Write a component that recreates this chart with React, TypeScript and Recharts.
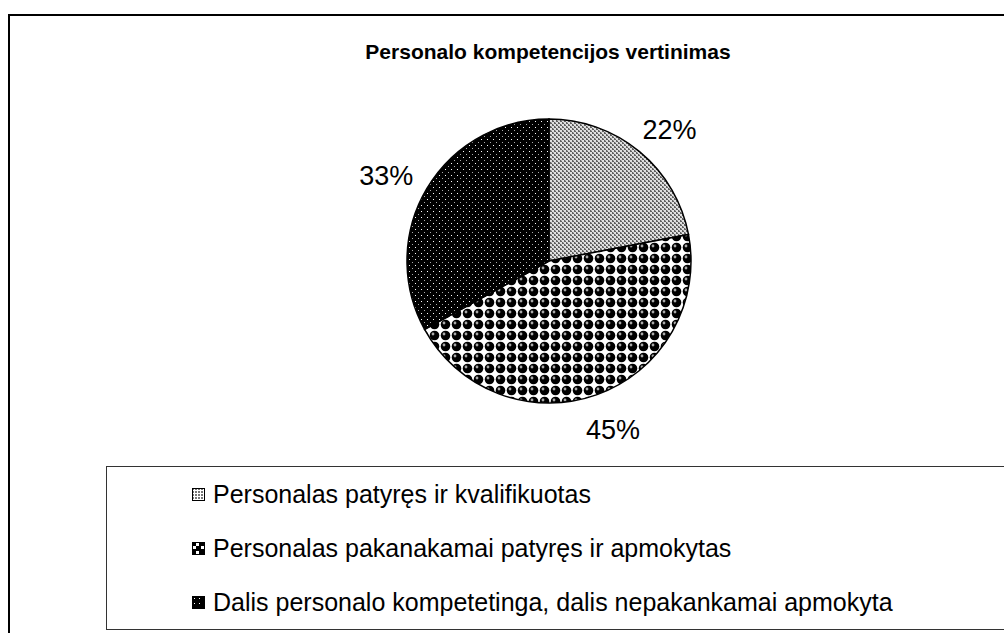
import { PieChart, Pie, Cell, Legend } from "recharts"

const categories = [
  "Personalas patyręs ir kvalifikuotas",
  "Personalas pakanakamai patyręs ir apmokytas",
  "Dalis personalo kompetetinga, dalis nepakankamai apmokyta",
]
const shares = [22, 45, 33]
const title = "Personalo kompetencijos vertinimas"

const data = categories.map((name, i) => ({ name, value: shares[i] }))
const fills = ["url(#patLight)", "url(#patBalls)", "url(#patDark)"]
const icons = ["url(#icoLight)", "url(#icoBalls)", "url(#icoDark)"]

const FONT = "'Liberation Sans', Arial, sans-serif"
const RADIAN = Math.PI / 180

function renderLabel(props: any) {
  const { cx, cy, midAngle, outerRadius, value } = props
  const r = outerRadius + 33
  const c = Math.cos(-midAngle * RADIAN)
  const s = Math.sin(-midAngle * RADIAN)
  const x = cx + r * c + 14 * c
  const y = cy + r * s + 4
  return (
    <text x={x} y={y} textAnchor="middle" dominantBaseline="central" fontSize={27} fontFamily={FONT} fill="#000">
      {value}%
    </text>
  )
}

function LegendBox() {
  return (
    <div style={{ fontFamily: FONT, fontSize: 25, color: "#000" }}>
      {data.map((d, i) => (
        <div key={d.name} style={{ display: "flex", alignItems: "center", height: 54, paddingLeft: 85 }}>
          <svg width={13} height={13} style={{ marginRight: 8 }}>
            <rect x={0.5} y={0.5} width={12} height={12} fill={icons[i]} stroke="#000" strokeWidth={1} />
          </svg>
          <span>{d.name}</span>
        </div>
      ))}
    </div>
  )
}

export default function App() {
  return (
    <div style={{ position: "absolute", left: 0, top: 0, width: 1004, height: 633, overflow: "hidden", background: "#fff" }}>
      {/* chart frame */}
      <div style={{ position: "absolute", left: 8, top: 14, width: 1010, height: 640, border: "2px solid #000", boxSizing: "border-box" }} />
      <div
        style={{
          position: "absolute",
          left: 0,
          right: 0,
          top: 40,
          textAlign: "center",
          paddingLeft: 92,
          fontFamily: FONT,
          fontWeight: "bold",
          fontSize: 21,
        }}
      >
        {title}
      </div>
      {/* legend frame */}
      <div style={{ position: "absolute", left: 106, top: 466, width: 920, height: 164, border: "1.5px solid #333", boxSizing: "border-box" }} />
      <div style={{ position: "absolute", left: 0, top: 0 }}>
        <PieChart width={1004} height={633} margin={{ top: 0, right: 0, bottom: 0, left: 0 }}>
          <defs>
            <pattern id="patLight" width={4} height={4} patternUnits="userSpaceOnUse">
              <rect width={4} height={4} fill="#e0e0e0" />
              <rect x={0} y={0} width={2} height={2} fill="#606060" />
              <rect x={2} y={2} width={2} height={2} fill="#606060" />
              <rect x={1} y={0} width={1} height={1} fill="#b0b0b0" />
              <rect x={3} y={2} width={1} height={1} fill="#b0b0b0" />
            </pattern>
            <pattern id="patBalls" width={11} height={11} patternUnits="userSpaceOnUse">
              <rect width={11} height={11} fill="#fff" />
              <circle cx={5.5} cy={5.5} r={4.8} fill="#000" />
              <circle cx={4} cy={4} r={1.4} fill="#aaa" />
            </pattern>
            <pattern id="patDark" width={6} height={6} patternUnits="userSpaceOnUse">
              <rect width={6} height={6} fill="#000" />
              <rect x={1} y={1} width={1} height={1} fill="#fff" />
              <rect x={4} y={4} width={1} height={1} fill="#aaa" />
            </pattern>
            <pattern id="icoLight" width={3} height={3} patternUnits="userSpaceOnUse">
              <rect width={3} height={3} fill="#fff" />
              <rect x={0} y={0} width={2} height={2} fill="#777" />
            </pattern>
            <pattern id="icoBalls" width={8} height={8} patternUnits="userSpaceOnUse">
              <rect width={8} height={8} fill="#000" />
              <rect x={4} y={1} width={3} height={3} fill="#fff" />
              <rect x={1} y={4} width={3} height={3} fill="#fff" />
            </pattern>
            <pattern id="icoDark" width={5} height={5} patternUnits="userSpaceOnUse">
              <rect width={5} height={5} fill="#000" />
              <rect x={2} y={2} width={1} height={1} fill="#fff" />
            </pattern>
          </defs>
          <Pie
            data={data}
            dataKey="value"
            nameKey="name"
            cx={549}
            cy={261}
            outerRadius={142}
            startAngle={90}
            endAngle={-270}
            stroke="#000"
            strokeWidth={1.5}
            label={renderLabel}
            labelLine={false}
            isAnimationActive={false}
          >
            {data.map((d, i) => (
              <Cell key={d.name} fill={fills[i]} />
            ))}
          </Pie>
          <Legend
            layout="horizontal"
            verticalAlign="bottom"
            align="left"
            content={() => <LegendBox />}
            wrapperStyle={{ position: "absolute", left: 107, top: 467, bottom: "auto", width: 890 }}
          />
        </PieChart>
      </div>
    </div>
  )
}
